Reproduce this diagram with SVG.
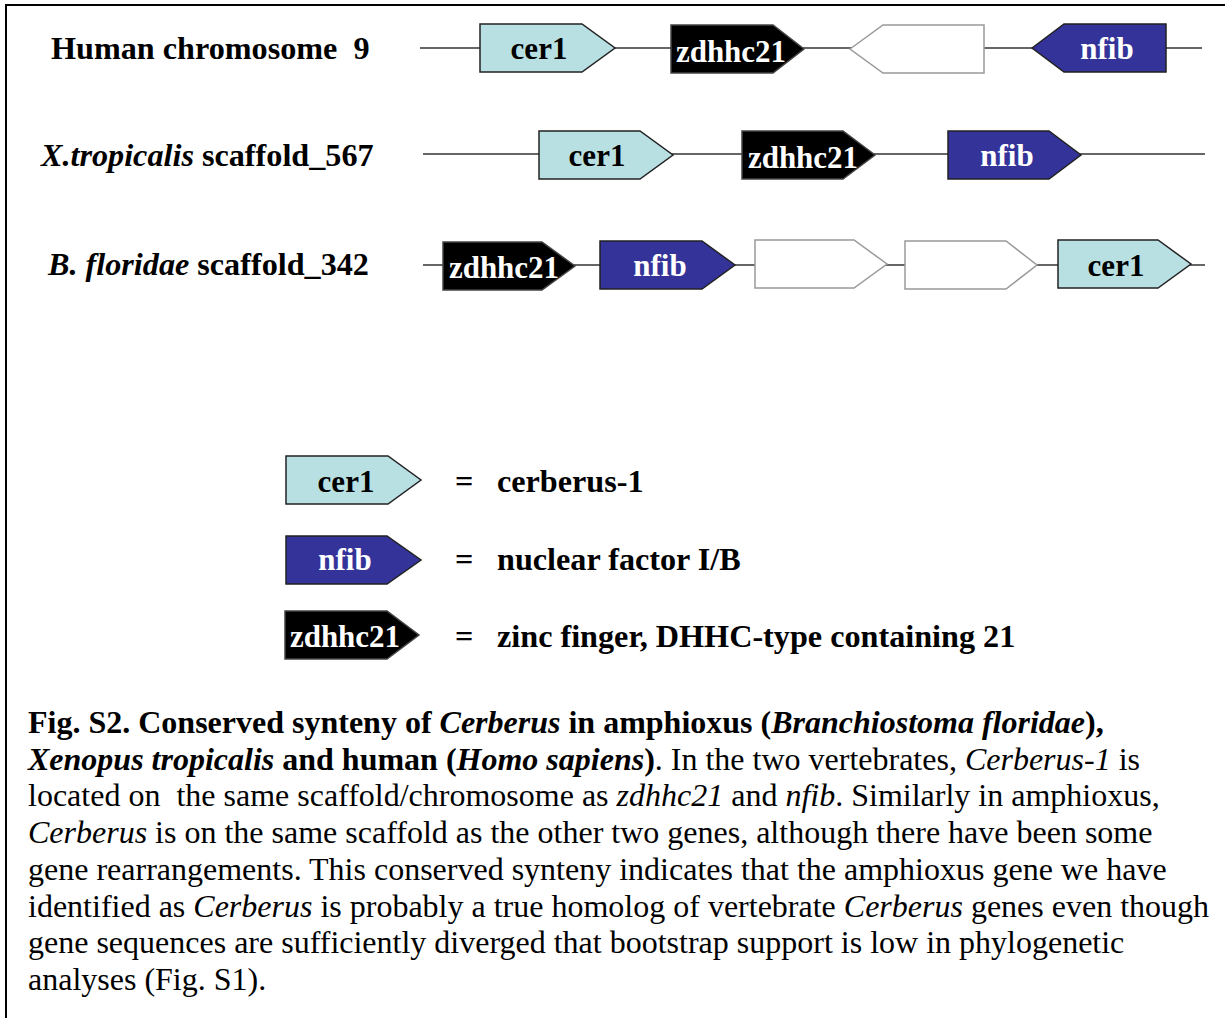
<svg xmlns="http://www.w3.org/2000/svg" width="1225" height="1018" viewBox="0 0 1225 1018">
<style>
.bg{fill:#fff}
.frame{fill:none;stroke:#000;stroke-width:2}
.chr{stroke:#333;stroke-width:1.6;fill:none}
.cer{fill:#b8e0e2;stroke:#222;stroke-width:1.5}
.nfib{fill:#333399;stroke:#222;stroke-width:1.5}
.zd{fill:#000;stroke:#444;stroke-width:1.5}
.blank{fill:#fff;stroke:#999;stroke-width:1.5}
text{font-family:"Liberation Serif","Times New Roman",serif}
.lbl{font-size:32.2px;font-weight:bold;fill:#000;white-space:pre}
.g{font-size:31px;font-weight:bold;text-anchor:middle}
.gk{fill:#000}
.gw{fill:#fff}
.cap{font-size:32px;fill:#000;white-space:pre}
.b{font-weight:bold}
.i{font-style:italic}
</style>
<rect class="bg" x="0" y="0" width="1225" height="1018"/>
<polyline class="frame" points="1225,5 6,5 6,1018"/>

<g id="row-labels">
<text class="lbl" x="51" y="59">Human chromosome  9</text>
<text class="lbl" x="41" y="166"><tspan class="i">X.tropicalis</tspan> scaffold_567</text>
<text class="lbl" x="48" y="275"><tspan class="i">B. floridae</tspan> scaffold_342</text>
</g>

<g id="connectors">
<line class="chr" x1="420" y1="48" x2="1202" y2="48"/>
<line class="chr" x1="423" y1="154" x2="1205" y2="154"/>
<line class="chr" x1="423" y1="265" x2="1205" y2="265"/>
</g>

<g id="h-cer1"><path class="cer" d="M480,24 H582 L615,48 L582,72 H480 Z"/><text class="g gk" x="539" y="59">cer1</text></g>
<g id="h-zdhhc21"><path class="zd" d="M671,25 H773 L804,49 L773,73 H671 Z"/><text class="g gw" x="731" y="62">zdhhc21</text></g>
<g id="h-blank"><path class="blank" d="M850,49 L883,25 H984 V73 H883 Z"/></g>
<g id="h-nfib"><path class="nfib" d="M1032,48 L1064,24 H1166 V72 H1064 Z"/><text class="g gw" x="1107" y="59">nfib</text></g>

<g id="x-cer1"><path class="cer" d="M539,131 H640 L673,155 L640,179 H539 Z"/><text class="g gk" x="597" y="166">cer1</text></g>
<g id="x-zdhhc21"><path class="zd" d="M742,131 H843 L875,155 L843,179 H742 Z"/><text class="g gw" x="803" y="168">zdhhc21</text></g>
<g id="x-nfib"><path class="nfib" d="M948,131 H1049 L1081,155 L1049,179 H948 Z"/><text class="g gw" x="1007" y="166">nfib</text></g>

<g id="b-zdhhc21"><path class="zd" d="M443,242 H542 L575,266 L542,290 H443 Z"/><text class="g gw" x="504" y="278">zdhhc21</text></g>
<g id="b-nfib"><path class="nfib" d="M600,241 H702 L735,265 L702,289 H600 Z"/><text class="g gw" x="660" y="276">nfib</text></g>
<g id="b-blank1"><path class="blank" d="M755,240 H854 L887,264 L854,288 H755 Z"/></g>
<g id="b-blank2"><path class="blank" d="M905,241 H1006 L1037,265 L1006,289 H905 Z"/></g>
<g id="b-cer1"><path class="cer" d="M1058,240 H1158 L1191,264 L1158,288 H1058 Z"/><text class="g gk" x="1116" y="276">cer1</text></g>

<g id="legend-cer1"><path class="cer" d="M286,456 H388 L421,480 L388,504 H286 Z"/><text class="g gk" x="346" y="492">cer1</text>
<text class="lbl" x="455" y="492">=</text><text class="lbl" x="497" y="492">cerberus-1</text></g>
<g id="legend-nfib"><path class="nfib" d="M286,536 H387 L421,560 L387,584 H286 Z"/><text class="g gw" x="345" y="570">nfib</text>
<text class="lbl" x="455" y="570">=</text><text class="lbl" x="497" y="570">nuclear factor I/B</text></g>
<g id="legend-zdhhc21"><path class="zd" d="M285,611 H387 L419,635 L387,659 H285 Z"/><text class="g gw" x="345" y="647">zdhhc21</text>
<text class="lbl" x="455" y="647">=</text><text class="lbl" x="497" y="647">zinc finger, DHHC-type containing 21</text></g>

<g id="caption">
<text class="cap" x="28" y="733"><tspan class="b">Fig. S2. Conserved synteny of </tspan><tspan class="b i">Cerberus</tspan><tspan class="b"> in amphioxus (</tspan><tspan class="b i">Branchiostoma floridae</tspan><tspan class="b">),</tspan></text>
<text class="cap" x="28" y="770"><tspan class="b i">Xenopus tropicalis</tspan><tspan class="b"> and human (</tspan><tspan class="b i">Homo sapiens</tspan><tspan class="b">)</tspan>. In the two vertebrates, <tspan class="i">Cerberus-1</tspan> is</text>
<text class="cap" x="28" y="806">located on  the same scaffold/chromosome as <tspan class="i">zdhhc21</tspan> and <tspan class="i">nfib</tspan>. Similarly in amphioxus,</text>
<text class="cap" x="28" y="843"><tspan class="i">Cerberus</tspan> is on the same scaffold as the other two genes, although there have been some</text>
<text class="cap" x="28" y="880">gene rearrangements. This conserved synteny indicates that the amphioxus gene we have</text>
<text class="cap" x="28" y="917">identified as <tspan class="i">Cerberus</tspan> is probably a true homolog of vertebrate <tspan class="i">Cerberus</tspan> genes even though</text>
<text class="cap" x="28" y="953">gene sequences are sufficiently diverged that bootstrap support is low in phylogenetic</text>
<text class="cap" x="28" y="990">analyses (Fig. S1).</text>
</g>
</svg>
